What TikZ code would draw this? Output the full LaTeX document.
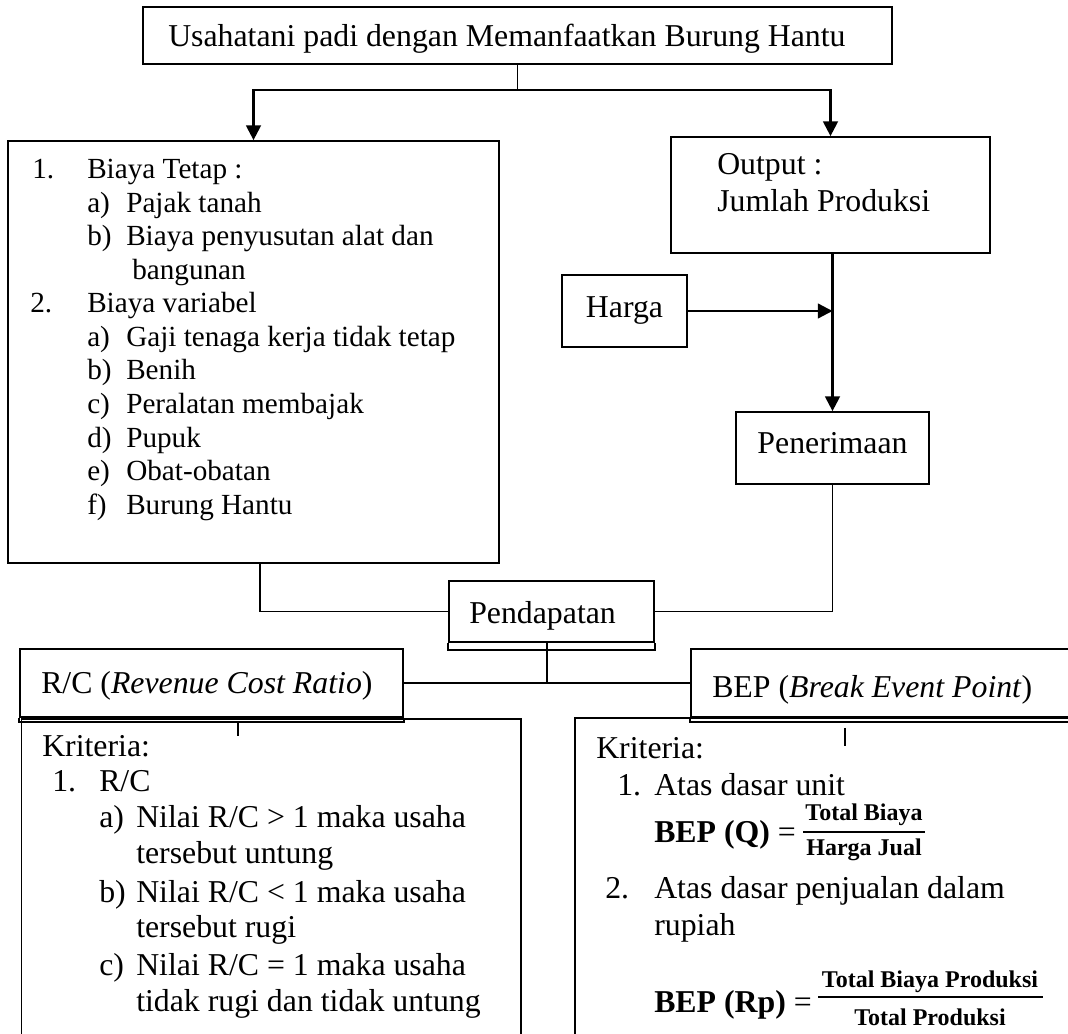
\documentclass[tikz,border=0pt]{standalone}
\usepackage{fontspec}
\setmainfont{Liberation Serif}
\usetikzlibrary{arrows.meta}
\begin{document}
\begin{tikzpicture}[x=0.75pt,y=-0.75pt,
  every node/.style={font=\fontsize{23.85pt}{28pt}\selectfont},
  sm/.style={font=\fontsize{21.9pt}{25pt}\selectfont},
  box/.style={draw, line width=1.3pt, rectangle, inner sep=0pt},
  arr/.style={line width=1.7pt, -{Triangle[length=11pt,width=11pt]}},
  ln/.style={line width=1.2pt},
  tx/.style={anchor=base west, inner sep=0pt},
  fr/.style={inner sep=0pt, font=\fontsize{18pt}{20pt}\selectfont\bfseries}]
\fill[white] (0,0) rectangle (1068,1034);
\useasboundingbox (0,0) rectangle (1068,1034);
\clip (0,0) rectangle (1068,1034);

% ---- boxes ----
\node[box, minimum width=749*0.75pt, minimum height=57*0.75pt] (top) at (517.5,35.5) {};
\node[tx] (tt) at (168,47) {Usahatani padi dengan Memanfaatkan Burung Hantu};

\node[box, minimum width=491*0.75pt, minimum height=422*0.75pt] (biaya) at (253.5,352) {};
\node[box, minimum width=319*0.75pt, minimum height=116*0.75pt] (output) at (830.5,195) {};
\node[box, minimum width=125*0.75pt, minimum height=72*0.75pt] (harga) at (624.5,311) {Harga};
\node[box, minimum width=193*0.75pt, minimum height=72*0.75pt, text depth=7.5pt] (pener) at (832.5,448) {Penerimaan};
\node[box, minimum width=205*0.75pt, minimum height=61*0.75pt] (pend) at (551.5,611.5) {};
\node[tx] (pendt) at (469,623) {Pendapatan};

\node[box, minimum width=499.5*0.75pt, minimum height=341*0.75pt] (rck) at (271.25,889.5) {};
\node[box, minimum width=525*0.75pt, minimum height=342*0.75pt] (bepk) at (837.5,889) {};
\node[box, minimum width=383*0.75pt, minimum height=68*0.75pt] (rch) at (211.5,683) {};
\node[box, minimum width=409*0.75pt, minimum height=68*0.75pt] (beph) at (895.5,683) {};
\node[tx] (rct) at (41,693) {R/C (\textit{Revenue Cost Ratio})};
\node[tx] (bept) at (712,697) {BEP (\textit{Break Event Point})};

% double bottom edges
\draw[ln] (pend.south west) -- ++(0,7) -| (pend.south east);
\draw[ln] (rch.south west) -- ++(0,4) -| (rch.south east);
\draw[ln] (beph.south west) -- ++(0,4) -| (beph.south east);

% ---- connectors ----
\draw[ln] (top.south) -- ++(0,25) coordinate (tj);
\draw[arr] (tj) -| (biaya.north);
\draw[arr] (tj) -| (output.north);
\draw[arr] (output.south -| pener.north) -- (pener.north);
\draw[arr] (harga.east) -- (harga.east -| pener.north);
\draw[ln] ([xshift=4.9pt]biaya.south) |- (pend.west);
\draw[ln] (pener.south) |- (pend.east);
\draw[ln] ([xshift=-3.4pt]pend.south) coordinate (ps) -- (ps |- rch.east) coordinate (pj);
\draw[ln] (rch.east) -- (rch.east -| beph.west);
\draw[ln] ([xshift=19.9pt,yshift=-3pt]rch.south) -- ++(0,14);
\draw[ln] ([xshift=-37.9pt,yshift=-7.5pt]beph.south) -- ++(0,18);

% ---- biaya text ----
\node[tx,sm] (n1) at (32,179) {1.};
\node[tx,sm] (t1) at (87,179) {Biaya Tetap :};
\node[tx,sm] (l1a) at (87,212.5) {a)};
\node[tx,sm] (i1a) at (126,212.5) {Pajak tanah};
\node[tx,sm] (l1b) at (87,246) {b)};
\node[tx,sm] (i1b) at (126,246) {Biaya penyusutan alat dan};
\node[tx,sm] (i1c) at (132,279.5) {bangunan};
\node[tx,sm] (n2) at (30,313) {2.};
\node[tx,sm] (t2) at (87,313) {Biaya variabel};
\node[tx,sm] (l2a) at (87,346.5) {a)};
\node[tx,sm] (i2a) at (126,346.5) {Gaji tenaga kerja tidak tetap};
\node[tx,sm] (l2b) at (87,380) {b)};
\node[tx,sm] (i2b) at (126,380) {Benih};
\node[tx,sm] (l2c) at (87,413.5) {c)};
\node[tx,sm] (i2c) at (126,413.5) {Peralatan membajak};
\node[tx,sm] (l2d) at (87,447) {d)};
\node[tx,sm] (i2d) at (126,447) {Pupuk};
\node[tx,sm] (l2e) at (87,480.5) {e)};
\node[tx,sm] (i2e) at (126,480.5) {Obat-obatan};
\node[tx,sm] (l2f) at (87,514) {f)};
\node[tx,sm] (i2f) at (126,514) {Burung Hantu};

% ---- output text ----
\node[tx] (o1) at (717,175) {Output :};
\node[tx] (o2) at (717,212) {Jumlah Produksi};

% ---- R/C criteria ----
\node[tx] (rk) at (42,756) {Kriteria:};
\node[tx] (rn1) at (52,791) {1.};
\node[tx] (rt1) at (99,791) {R/C};
\node[tx] (ra) at (99,827) {a)};
\node[tx] (rai) at (136,827) {Nilai R/C > 1 maka usaha};
\node[tx] (rai2) at (136,863.5) {tersebut untung};
\node[tx] (rb) at (99,902) {b)};
\node[tx] (rbi) at (136,902) {Nilai R/C < 1 maka usaha};
\node[tx] (rbi2) at (136,937.5) {tersebut rugi};
\node[tx] (rc) at (99,975) {c)};
\node[tx] (rci) at (136,975) {Nilai R/C = 1 maka usaha};
\node[tx] (rci2) at (136,1011) {tidak rugi dan tidak untung};

% ---- BEP criteria ----
\node[tx] (bk) at (596,758) {Kriteria:};
\node[tx] (bn1) at (617,795) {1.};
\node[tx] (bt1) at (654,795) {Atas dasar unit};
\node[tx] (bq) at (654,842) {\textbf{BEP (Q)} =};
\node[fr] (qn) at (864,815) {Total Biaya};
\node[fr] (qd) at (864,850) {Harga Jual};
\draw[line width=1.2pt] (803,832) -- (925,832);
\node[tx] (bn2) at (605,898) {2.};
\node[tx] (bt2) at (654,898) {Atas dasar penjualan dalam};
\node[tx] (bt2b) at (654,935) {rupiah};
\node[tx] (brp) at (654,1012) {\textbf{BEP (Rp)} =};
\node[fr] (rpn) at (930,982) {Total Biaya Produksi};
\node[fr] (rpd) at (930,1017) {Total Produksi};
\draw[line width=1.2pt] (818,997) -- (1043,997);
\end{tikzpicture}
\end{document}
